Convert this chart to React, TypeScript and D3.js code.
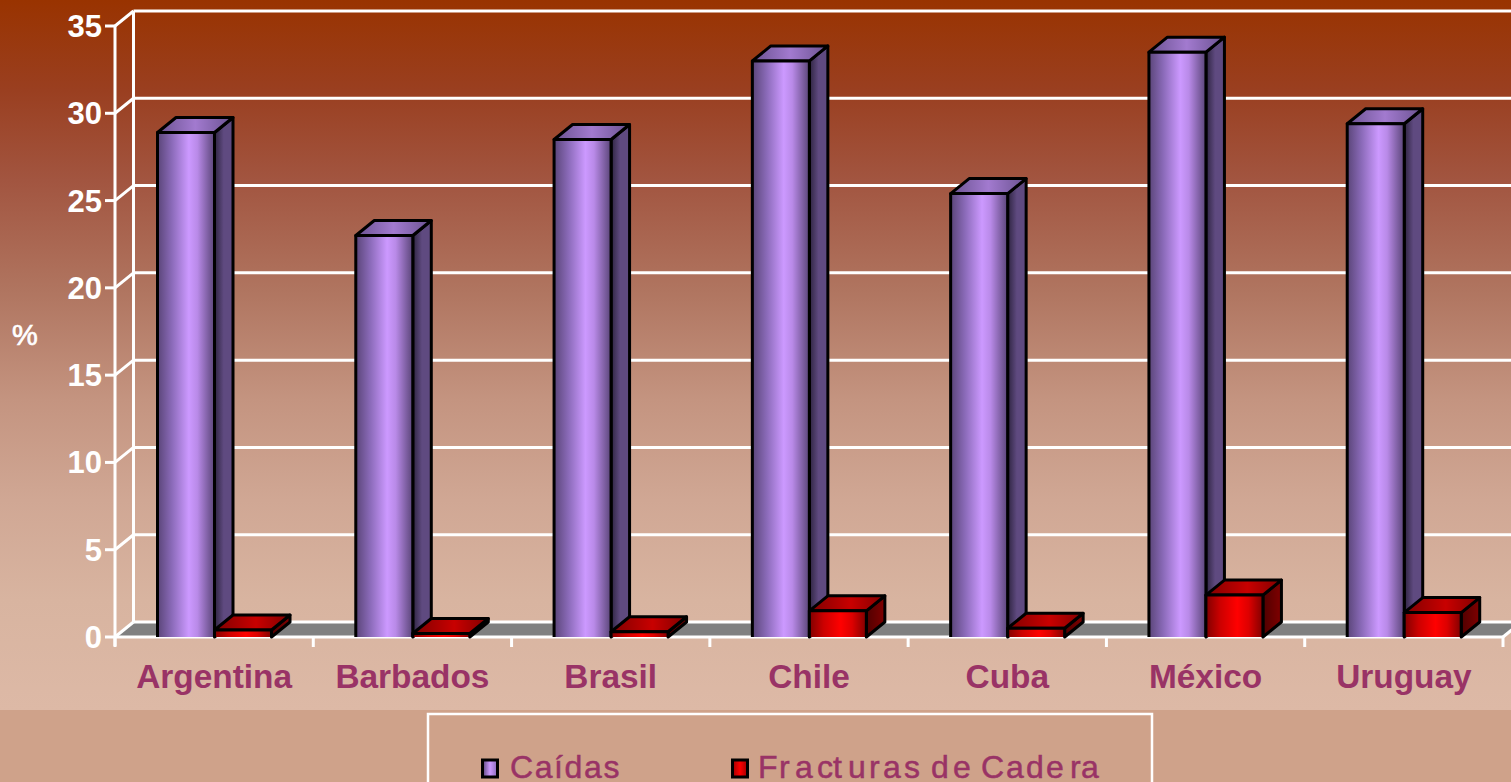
import React from "react";
import * as d3 from "d3";

const categories = ["Argentina", "Barbados", "Brasil", "Chile", "Cuba", "México", "Uruguay"];
const caidas = [28.9, 23.0, 28.5, 33.0, 25.4, 33.5, 29.4];
const fracturas = [0.4, 0.2, 0.3, 1.5, 0.5, 2.4, 1.4];
const yTicks = [0, 5, 10, 15, 20, 25, 30, 35];
const legendLabels = ["Caídas", "Fracturas de Cadera"];

const W = 1511, H = 782;
const dx = 18.5, dy = -15;
const y = d3.scaleLinear().domain([0, 35]).range([637, 26]);
const x = d3.scaleBand<string>().domain(categories).range([115, 1503]).paddingInner(0).paddingOuter(0);
const inner = d3.scaleBand<string>().domain(["c", "f"]).range([42.5, 156.5]);
const pts = (a: number[][]) => a.map(p => p.join(",")).join(" ");
const TEXT = "#993366";
const FONT = "'Liberation Sans', Arial, sans-serif";
// the reference legend has uneven letter gaps: pen position of each character of the second label
const fracturasGlyphX = "758 779 795 817 833 848 869 883 904 921 931 953 971 981 1006 1026 1046 1070 1081";

function Grad({ id, stops }: { id: string; stops: [number, string][] }) {
  return (
    <linearGradient id={id} x1="0" x2="1" y1="0" y2="0">
      {stops.map(([o, c], i) => <stop key={i} offset={o} stopColor={c} />)}
    </linearGradient>
  );
}

function Bar({ x0, w, v, k }: { x0: number; w: number; v: number; k: string }) {
  const t = y(v), b = y(0);
  const s = { stroke: "#000", strokeWidth: 3, strokeLinejoin: "round" as const };
  return (
    <g>
      <polygon points={pts([[x0 + w, t], [x0 + w + dx, t + dy], [x0 + w + dx, b + dy], [x0 + w, b]])} fill={`url(#${k}Side)`} {...s} />
      <polygon points={pts([[x0, t], [x0 + dx, t + dy], [x0 + w + dx, t + dy], [x0 + w, t]])} fill={`url(#${k}Top)`} {...s} />
      <rect x={x0} y={t} width={w} height={b - t} fill={`url(#${k}Front)`} stroke="none" />
      <path d={`M${x0},${b} V${t} H${x0 + w} V${b}`} fill="none" {...s} />
    </g>
  );
}

export default function App() {
  const xL = x.range()[0], xR = x.range()[1];
  const bottom = y(0);
  return (
    <svg width={W} height={H} viewBox={`0 0 ${W} ${H}`} style={{ position: "absolute", left: 0, top: 0, display: "block" }} fontFamily={FONT}>
      <defs>
        <linearGradient id="bg" x1="0" x2="0" y1="0" y2="1">
          <stop offset="0" stopColor="#993300" />
          <stop offset="0.127" stopColor="#9A3F20" />
          <stop offset="0.254" stopColor="#A25540" />
          <stop offset="0.41" stopColor="#B07560" />
          <stop offset="0.563" stopColor="#C49480" />
          <stop offset="0.704" stopColor="#D0A794" />
          <stop offset="0.845" stopColor="#D8B4A0" />
          <stop offset="1" stopColor="#DDB9A6" />
        </linearGradient>
        <Grad id="cFront" stops={[[0, "#5a4578"], [0.25, "#8a6ab8"], [0.55, "#cc99ff"], [0.7, "#b98ae8"], [1, "#5a4578"]]} />
        <Grad id="cSide" stops={[[0, "#2e2440"], [0.5, "#5f4a80"], [1, "#5f4a80"]]} />
        <Grad id="cTop" stops={[[0, "#6a5290"], [0.5, "#a27acf"], [1, "#6a5290"]]} />
        <Grad id="fFront" stops={[[0, "#800000"], [0.25, "#cc0000"], [0.55, "#ff0000"], [0.75, "#dd0000"], [1, "#800000"]]} />
        <Grad id="fSide" stops={[[0, "#500000"], [1, "#800000"]]} />
        <Grad id="fTop" stops={[[0, "#800000"], [0.55, "#c80000"], [1, "#800000"]]} />
        <Grad id="sw1" stops={[[0, "#5a4578"], [0.5, "#cc99ff"], [1, "#8a6ab8"]]} />
        <Grad id="sw2" stops={[[0, "#a00000"], [0.5, "#ff0000"], [1, "#a00000"]]} />
      </defs>

      <rect x={0} y={0} width={W} height={710} fill="url(#bg)" />
      <rect x={0} y={710} width={W} height={H - 710} fill="#CFA28A" />

      {/* floor */}
      <polygon points={pts([[xL, bottom], [xL + dx, bottom + dy], [xR + dx, bottom + dy], [xR, bottom]])} fill="#808080" />

      {/* back wall grid */}
      {yTicks.map(t => (
        <g key={t} stroke="#fff" strokeWidth={3} fill="none">
          <line x1={xL + dx} x2={W + 20} y1={y(t) + dy} y2={y(t) + dy} />
          <line x1={xL} y1={y(t)} x2={xL + dx} y2={y(t) + dy} />
          <line x1={xL - 10} x2={xL} y1={y(t)} y2={y(t)} />
        </g>
      ))}
      <g stroke="#fff" strokeWidth={3} fill="none">
        <line x1={xL} x2={xL} y1={y(35)} y2={bottom + 9} />
        <line x1={xL + dx} x2={xL + dx} y1={y(35) + dy} y2={bottom + dy} />
        <line x1={xL} x2={xR} y1={bottom} y2={bottom} />
        <line x1={xR} y1={bottom} x2={xR + dx} y2={bottom + dy} />
        {[...categories.map(c => x(c)!), xR].map((px, i) => (
          <line key={i} x1={px} x2={px} y1={bottom} y2={bottom + 10} />
        ))}
      </g>

      {/* bars */}
      {categories.map((c, i) => (
        <g key={c}>
          <Bar x0={x(c)! + inner("c")!} w={inner.bandwidth()} v={caidas[i]} k="c" />
          <Bar x0={x(c)! + inner("f")!} w={inner.bandwidth()} v={fracturas[i]} k="f" />
        </g>
      ))}

      {/* axis labels */}
      {yTicks.map(t => (
        <text key={t} x={102} y={y(t) + 11} textAnchor="end" fontSize={31} fontWeight={700} fill="#fff">{t}</text>
      ))}
      <text x={25} y={345} textAnchor="middle" fontSize={29} fill="#fff" stroke="#fff" strokeWidth={0.7}>%</text>
      {categories.map(c => (
        <text key={c} x={x(c)! + x.bandwidth() / 2} y={688} textAnchor="middle" fontSize={33.4} fontWeight={700} fill={TEXT}>{c}</text>
      ))}

      {/* legend */}
      <rect x={428} y={714} width={724} height={100} fill="#CFA28A" stroke="#fff" strokeWidth={2.5} />
      <rect x={482.5} y={760} width={15} height={17} fill="url(#sw1)" stroke="#000" strokeWidth={3} />
      <text x={510} y={778} fontSize={32} fill={TEXT} stroke={TEXT} strokeWidth={0.5} letterSpacing={1.6}>{legendLabels[0]}</text>
      <rect x={732.5} y={760} width={15} height={17} fill="url(#sw2)" stroke="#000" strokeWidth={3} />
      <text x={fracturasGlyphX} y={778} fontSize={32} fill={TEXT} stroke={TEXT} strokeWidth={0.5} style={{ fontKerning: "none" }}>{legendLabels[1]}</text>
    </svg>
  );
}
